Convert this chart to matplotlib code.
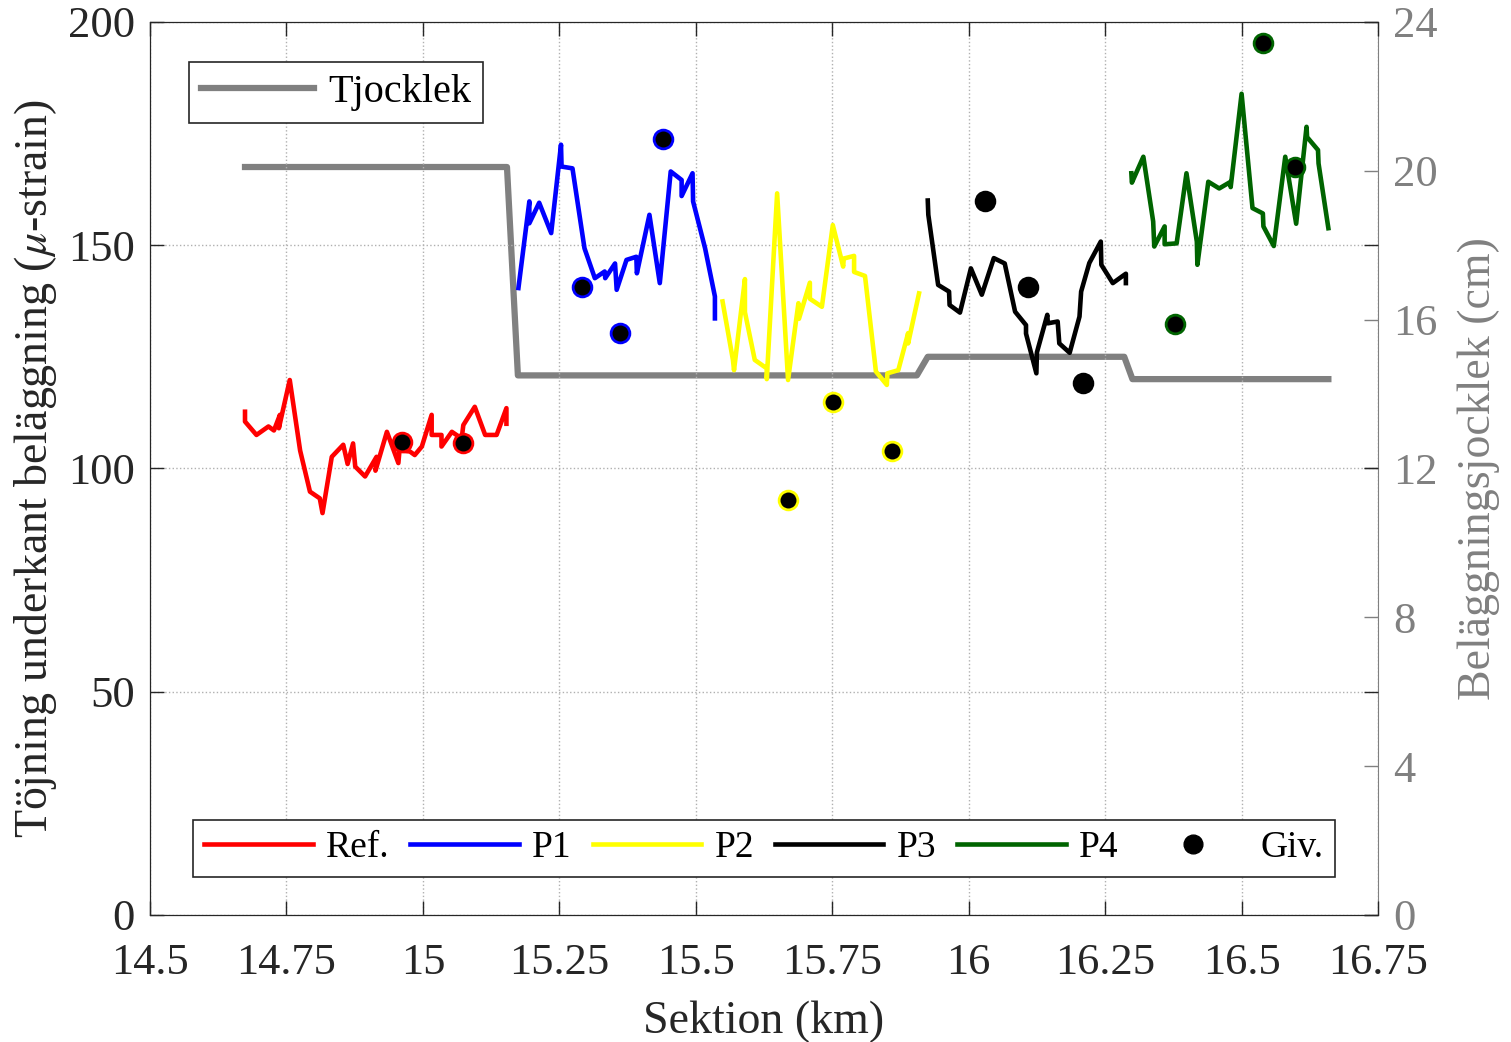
import numpy as np
import matplotlib.pyplot as plt
from matplotlib.lines import Line2D

plt.rcParams['font.family'] = ['Liberation Serif', 'DejaVu Serif']
plt.rcParams['mathtext.fontset'] = 'stix'

# strain series (km, micro-strain)
ref_x = [14.674, 14.674, 14.695, 14.717, 14.727, 14.738, 14.736, 14.756, 14.775, 14.793, 14.811, 14.816,
         14.833, 14.854, 14.862, 14.872, 14.876, 14.894, 14.915, 14.913, 14.934, 14.955, 14.957, 14.976,
         14.985, 14.998, 15.016, 15.016, 15.034, 15.034, 15.053, 15.071, 15.074, 15.095, 15.114, 15.135,
         15.153, 15.153]
ref_y = [112.7, 110.5, 107.5, 109.4, 108.5, 112.0, 109.0, 119.8, 104.0, 94.8, 93.3, 90.0,
         102.6, 105.3, 101.0, 105.6, 100.4, 98.2, 102.6, 99.5, 108.2, 101.2, 104.0, 103.8,
         103.0, 104.9, 112.0, 107.5, 107.5, 104.9, 108.2, 106.7, 109.7, 113.8, 107.5, 107.5,
         113.5, 110.0]

p1_x = [15.175, 15.195, 15.195, 15.213, 15.235, 15.253, 15.254, 15.274, 15.296, 15.315, 15.333, 15.334,
        15.352, 15.355, 15.373, 15.391, 15.392, 15.415, 15.434, 15.454, 15.474, 15.474, 15.494, 15.495,
        15.517, 15.535, 15.535]
p1_y = [140.4, 159.8, 154.9, 159.5, 152.7, 172.5, 167.6, 167.2, 149.3, 142.6, 144.1, 142.6,
        145.9, 140.0, 146.7, 147.4, 143.7, 156.8, 141.5, 166.5, 164.6, 161.0, 166.1, 159.8,
        149.3, 138.5, 133.6]

p2_x = [15.549, 15.568, 15.570, 15.590, 15.590, 15.608, 15.630, 15.630, 15.649, 15.669, 15.688, 15.689,
        15.709, 15.709, 15.731, 15.751, 15.770, 15.771, 15.790, 15.790, 15.810, 15.830, 15.850, 15.851,
        15.871, 15.889, 15.889, 15.909]
p2_y = [137.4, 124.3, 122.0, 142.4, 135.0, 124.3, 122.4, 120.0, 161.6, 119.8, 137.0, 133.5,
        141.6, 138.0, 136.2, 154.5, 145.2, 147.0, 147.6, 144.0, 143.1, 121.7, 118.7, 121.3,
        122.0, 130.3, 128.0, 139.2]

p3_x = [15.925, 15.926, 15.944, 15.964, 15.965, 15.984, 16.004, 16.024, 16.046, 16.066, 16.085, 16.105,
        16.105, 16.124, 16.125, 16.144, 16.145, 16.163, 16.166, 16.185, 16.203, 16.206, 16.221, 16.242,
        16.243, 16.264, 16.281, 16.288, 16.288]
p3_y = [160.0, 156.8, 141.1, 139.6, 136.6, 134.9, 144.8, 138.9, 147.1, 145.9, 135.1, 132.1,
        130.2, 121.3, 126.0, 134.4, 132.5, 132.9, 128.0, 125.9, 134.0, 139.6, 146.0, 150.8,
        145.6, 141.5, 143.0, 143.6, 141.5]

p4_x = [16.298, 16.299, 16.320, 16.338, 16.340, 16.359, 16.359, 16.381, 16.399, 16.418, 16.419, 16.439,
        16.459, 16.480, 16.480, 16.500, 16.520, 16.539, 16.540, 16.559, 16.580, 16.600, 16.619, 16.620,
        16.640, 16.641, 16.659]
p4_y = [166.1, 164.0, 169.8, 155.3, 149.7, 154.2, 150.2, 150.4, 166.1, 150.8, 145.6, 164.2,
        162.7, 164.2, 163.0, 183.9, 158.3, 157.1, 154.2, 149.8, 169.8, 154.8, 176.5, 174.2,
        171.3, 168.3, 153.8]

# gauge readings (Giv.)
giv_x = [[14.961, 15.074], [15.291, 15.361, 15.439], [15.668, 15.751, 15.859],
         [16.030, 16.109, 16.209], [16.378, 16.540, 16.598]]
giv_y = [[106.0, 105.6], [140.7, 130.3, 173.7], [92.9, 114.8, 103.8],
         [160.0, 140.7, 119.1], [132.4, 195.2, 167.6]]

# layer thickness (cm)
thick_x = [14.674, 15.154, 15.174, 15.905, 15.925, 16.285, 16.300, 16.659]
thick_cm = [20.1, 20.1, 14.5, 14.5, 15.0, 15.0, 14.4, 14.4]

xticks = [14.5, 14.75, 15, 15.25, 15.5, 15.75, 16, 16.25, 16.5, 16.75]
xtick_labels = ['14.5', '14.75', '15', '15.25', '15.5', '15.75', '16', '16.25', '16.5', '16.75']

series = [(ref_x, ref_y, 'red', 'Ref.'), (p1_x, p1_y, 'blue', 'P1'),
          (p2_x, p2_y, 'yellow', 'P2'), (p3_x, p3_y, 'black', 'P3'),
          (p4_x, p4_y, '#006400', 'P4')]

fig = plt.figure(figsize=(15.11, 10.42), dpi=100)
ax = fig.add_axes([0.0993, 0.1219, 0.8127, 0.8571])
ax2 = ax.twinx()
ax.set_zorder(ax2.get_zorder() + 1)
ax.patch.set_visible(False)

gray = '#808080'
th_line, = ax2.plot(thick_x, thick_cm, color=gray, lw=4.5, label='Tjocklek')
ax2.set_ylim(0, 24)
ax2.set_yticks(range(0, 25, 4))
ax2.tick_params(axis='y', direction='in', colors=gray, labelsize=32, length=10, width=1, pad=11)
ax2.spines['right'].set_color(gray)
ax2.set_ylabel('Beläggningsjocklek (cm)', color=gray, fontsize=33, labelpad=14)

handles = []
for (sx, sy, c, name), gx, gy in zip(series, giv_x, giv_y):
    h, = ax.plot(sx, sy, color=c, lw=3.3, label=name)
    handles.append(h)
    ax.plot(gx, gy, 'o', ms=13.5, mfc='black', mec=c, mew=2, ls='none')

ax.set_xlim(14.5, 16.75)
ax.set_ylim(0, 200)
ax.set_xticks(xticks)
ax.set_xticklabels(xtick_labels)
ax.set_yticks([0, 50, 100, 150, 200])
ax.tick_params(direction='in', top=True, labelsize=32, length=10, width=1, colors='#262626')
ax.tick_params(axis='y', right=True, pad=11)
ax.tick_params(axis='x', pad=20)
ax.grid(True, ls=':', color='#b0b0b0', lw=1)
for s in ['left', 'top', 'bottom']:
    ax.spines[s].set_color('#262626')
ax.spines['right'].set_visible(False)
ax.set_xlabel('Sektion (km)', fontsize=33, color='#262626', labelpad=13)
ax.set_ylabel('Töjning underkant beläggning ($\\mu$-strain)', fontsize=33, color='#262626', labelpad=6)

giv_handle = Line2D([], [], marker='o', ms=13.5, mfc='black', mec='black', ls='none')
leg1 = ax.legend([th_line], ['Tjocklek'], loc='upper left', bbox_to_anchor=(0.032, 0.955),
                 fontsize=29, handlelength=2.8, handletextpad=0.35, fancybox=False,
                 edgecolor='#262626', framealpha=1, borderpad=0.3, borderaxespad=0)
leg1.get_frame().set_linewidth(1.2)
ax.add_artist(leg1)
leg2 = ax.legend(handles + [giv_handle], ['Ref.', 'P1', 'P2', 'P3', 'P4', 'Giv.'],
                 loc='lower left', bbox_to_anchor=(0.035, 0.043), ncol=6, fontsize=27,
                 handlelength=2.9, handletextpad=0.35, columnspacing=0.55, fancybox=False,
                 edgecolor='#262626', framealpha=1, borderpad=0.3, borderaxespad=0)
leg2.get_frame().set_linewidth(1.2)

fig.savefig('out.png', dpi=100)
